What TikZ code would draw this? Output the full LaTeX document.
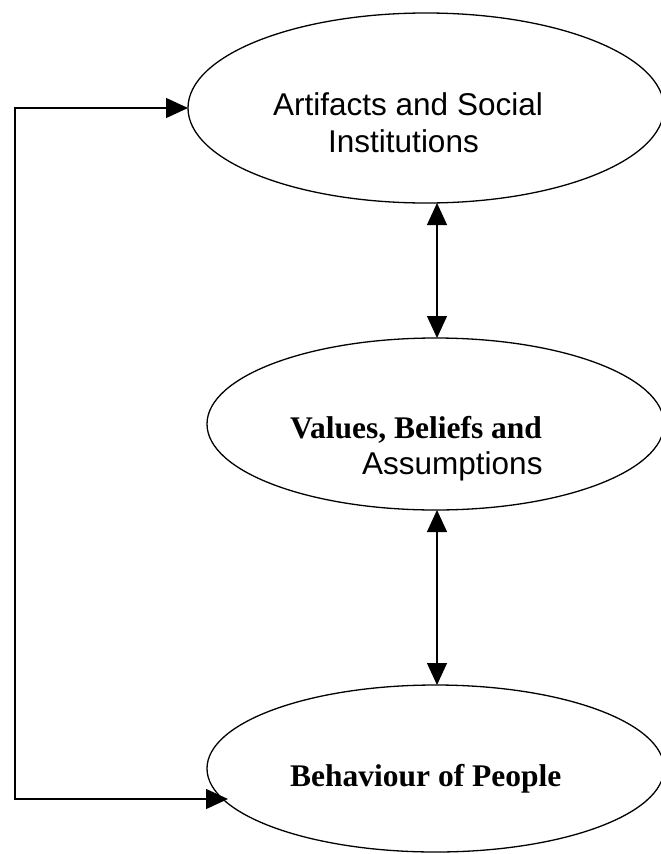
\documentclass[tikz,border=0pt]{standalone}
\usepackage{fontspec}
\setmainfont{Liberation Serif}
\newfontfamily\arialfont{Liberation Sans}
\usetikzlibrary{shapes.geometric,arrows.meta}
\tikzset{
  oval/.style={ellipse, draw=black, line width=1.3pt, inner sep=0pt, outer sep=0pt},
  sanslbl/.style={anchor=base west, inner sep=0pt, font=\arialfont\fontsize{31.5}{37}\selectfont},
  seriflbl/.style={anchor=base west, inner sep=0pt, font=\bfseries\fontsize{31.5}{37}\selectfont},
  conn/.style={line width=1.3pt, {Triangle[width=20pt,length=22pt]}-{Triangle[width=20pt,length=22pt]}}
}
\begin{document}
\begin{tikzpicture}[x=1pt,y=-1pt]
\useasboundingbox (0,0) rectangle (661,854);
% ellipses
\node[oval, minimum width=476pt, minimum height=190pt] (art) at (426,108) {};
\node[oval, minimum width=457pt, minimum height=172pt] (val) at (435.5,424) {};
\node[oval, minimum width=457pt, minimum height=167pt] (beh) at (435.5,768.5) {};
% labels
\node[sanslbl] (t1) at (273,115) {Artifacts and Social};
\node[sanslbl] (t2) at (328,152) {Institutions};
\node[seriflbl] (t3) at (290,438) {Values, Beliefs and};
\node[sanslbl] (t4) at (362,474) {Assumptions};
\node[seriflbl] (t5) at (290,786) {Behaviour of People};
% vertical double arrows
\coordinate (ax) at (437,0);
\draw[conn] (art.south -| ax) -- (val.north -| ax);
\draw[conn] (val.south -| ax) -- (beh.north -| ax);
% feedback loop
\coordinate (lt) at (15,108);
\coordinate (lb) at (15,799);
\coordinate (bt) at (228,799);
\draw[conn] (art.west) -- (lt) -- (lb) -- (bt);
\end{tikzpicture}
\end{document}
